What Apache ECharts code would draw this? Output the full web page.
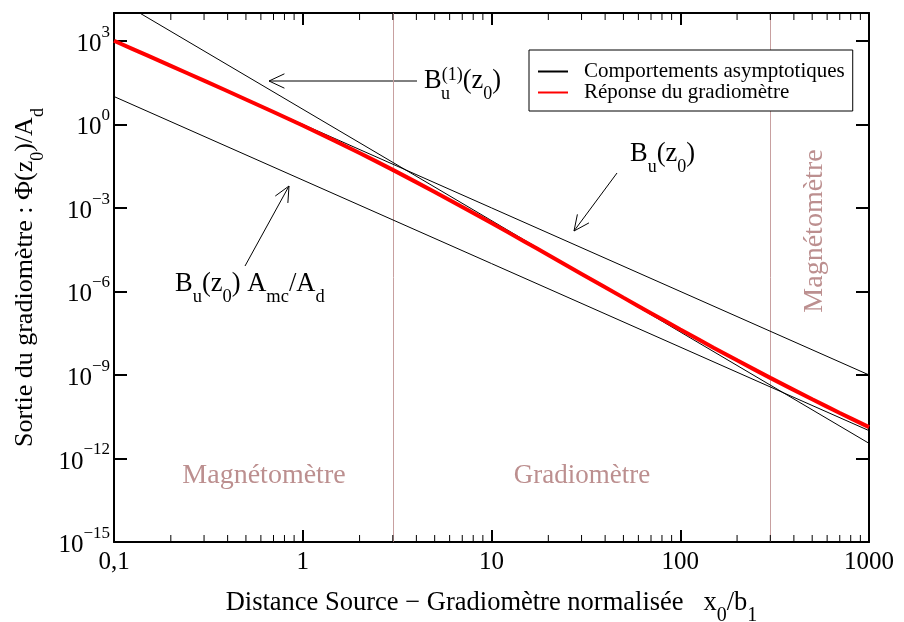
<!DOCTYPE html>
<html>
<head>
<meta charset="utf-8">
<script src="https://cdn.jsdelivr.net/npm/echarts@6/dist/echarts.min.js"></script>
<style>
  html, body { margin: 0; padding: 0; background: #fff; }
  #chart { width: 904px; height: 622px; }
</style>
</head>
<body>
<div id="chart"></div>
<script>
// Normalised source–gradiometer distance x0/b1
const distance = [0.1, 0.15, 0.2, 0.3, 0.5, 0.7, 1, 1.5, 2, 3, 5, 7, 10, 15, 20, 30, 50, 70, 100, 150, 200, 300, 500, 700, 1000];
// Gradiometer output Φ(z0)/Ad
const response = [1010, 299, 126, 37.1, 7.85, 2.78, 0.907, 0.244, 0.0936, 0.0232, 0.00374, 0.00108,
  2.85e-4, 6.10e-5, 2.03e-5, 4.26e-6, 5.99e-7, 1.66e-7, 4.31e-8, 9.56e-9, 3.35e-9, 7.86e-10, 1.34e-10, 4.32e-11, 1.34e-11];

// Asymptotic behaviours (straight lines in log–log), end points
const asymDistance = [0.1, 1000];
const derivAsym = [3.5e4, 3.5e-12];     // B_u^(1)(z0)
const fieldAsym = [1e3, 1e-9];          // B_u(z0)
const imbalanceAsym = [10, 1e-11];      // B_u(z0) Amc/Ad

// Regime boundaries
const regimeBounds = [3, 300];

// Axis ranges and ticks
const xRange = [0.1, 1000];
const yRange = [1e-15, 1e4];
const yTickStepDecades = 3;
const xMinorTicks = [0.2, 0.3, 0.4, 0.5, 0.6, 0.7, 0.8, 0.9,
  2, 3, 4, 5, 6, 7, 8, 9,
  20, 30, 40, 50, 60, 70, 80, 90,
  200, 300, 400, 500, 600, 700, 800, 900];

const SERIF = '"Liberation Serif", "Times New Roman", Times, serif';
const REGIME = '#bc8f8f';

const pairs = (xs, ys) => xs.map((x, i) => [x, ys[i]]);

// rich-text styles: main text plus lowered (d) / raised (u) small text
function richSet(size, small, drop, raise, color) {
  return {
    m: { fontFamily: SERIF, fontSize: size, lineHeight: size, color: color },
    d: { fontFamily: SERIF, fontSize: small, lineHeight: small, color: color, padding: [drop, 0, 0, 0] },
    u: { fontFamily: SERIF, fontSize: small, lineHeight: small, color: color, padding: [0, 0, raise, 0] }
  };
}

function arrow(tail, tip) {
  const L = 17, a = 25 * Math.PI / 180;
  const ang = Math.atan2(tail[1] - tip[1], tail[0] - tip[0]);
  const w1 = [tip[0] + L * Math.cos(ang + a), tip[1] + L * Math.sin(ang + a)];
  const w2 = [tip[0] + L * Math.cos(ang - a), tip[1] + L * Math.sin(ang - a)];
  return [
    { type: 'polyline', shape: { points: [tail, tip] }, style: { stroke: '#000', lineWidth: 1, fill: null } },
    { type: 'polyline', shape: { points: [w1, tip, w2] }, style: { stroke: '#000', lineWidth: 1, fill: null } }
  ];
}

const chart = echarts.init(document.getElementById('chart'), null, { renderer: 'canvas' });

const thinLine = { color: '#000', width: 1 };

const option = {
  animation: false,
  backgroundColor: '#fff',
  grid: { left: 114, right: 35, top: 13, bottom: 80, containLabel: false, outerBoundsMode: 'none' },
  legend: {
    data: ['Comportements asymptotiques', 'Réponse du gradiomètre'],
    orient: 'vertical',
    left: 529, top: 50,
    padding: [11, 8, 8, 8],
    itemWidth: 30, itemHeight: 14, itemGap: 0,
    borderColor: '#000', borderWidth: 1, borderRadius: 0,
    backgroundColor: '#fff',
    selectedMode: false,
    itemStyle: { opacity: 0 },
    textStyle: { fontFamily: SERIF, fontSize: 21, lineHeight: 20, color: '#000', padding: [0, 0, 0, 11] }
  },
  xAxis: [{
    type: 'log', logBase: 10, min: xRange[0], max: xRange[1], interval: 1,
    name: '{m|Distance Source − Gradiomètre normalisée   x}{d|0}{m|/b}{d|1}',
    nameLocation: 'middle', nameGap: 46,
    nameTextStyle: { rich: richSet(26.5, 20, 26, 0, '#000') },
    axisLine: { lineStyle: { color: '#000', width: 2 } },
    axisTick: { inside: true, length: 12, lineStyle: { color: '#000', width: 2 } },
    splitLine: { show: false },
    axisLabel: {
      margin: 8, color: '#000', fontFamily: SERIF, fontSize: 25,
      formatter: v => (v < 1 ? String(v).replace('.', ',') : String(Math.round(v)))
    }
  }, {
    type: 'log', logBase: 10, min: xRange[0], max: xRange[1], interval: 1, position: 'top',
    axisLine: { lineStyle: { color: '#000', width: 2 } },
    axisTick: { inside: true, length: 12, lineStyle: { color: '#000', width: 2 } },
    axisLabel: { show: false }, splitLine: { show: false }
  }],
  yAxis: [{
    type: 'log', logBase: 10, min: yRange[0], max: yRange[1], interval: yTickStepDecades,
    name: '{m|Sortie du gradiomètre : Φ(z}{d|0}{m|)/A}{d|d}',
    nameLocation: 'middle', nameGap: 68, nameRotate: 90,
    nameTextStyle: { rich: richSet(26, 18, 26, 0, '#000') },
    axisLine: { lineStyle: { color: '#000', width: 2 } },
    axisTick: { inside: true, length: 13, lineStyle: { color: '#000', width: 2 } },
    splitLine: { show: false },
    axisLabel: {
      margin: 4, showMaxLabel: false,
      formatter: v => {
        const e = Math.round(Math.log10(v));
        if (e > 3) return '';
        return '{b|10}{s|' + (e < 0 ? '\u2212' + (-e) : e) + '}';
      },
      rich: {
        b: { fontFamily: SERIF, fontSize: 25, lineHeight: 25, color: '#000', padding: [7, 0, 0, 0] },
        s: { fontFamily: SERIF, fontSize: 17, lineHeight: 17, color: '#000', padding: [0, 0, 17, 0] }
      }
    }
  }, {
    type: 'log', logBase: 10, min: yRange[0], max: yRange[1], interval: yTickStepDecades, position: 'right',
    axisLine: { lineStyle: { color: '#000', width: 2 } },
    axisTick: { inside: true, length: 13, lineStyle: { color: '#000', width: 2 } },
    axisLabel: { show: false }, splitLine: { show: false }
  }],
  series: [
    {
      name: 'Comportements asymptotiques', type: 'line', symbol: 'none', showSymbol: false, clip: true,
      lineStyle: thinLine, itemStyle: { color: '#000' },
      data: pairs(asymDistance, derivAsym), z: 2
    },
    {
      name: 'Comportements asymptotiques', type: 'line', symbol: 'none', showSymbol: false, clip: true,
      lineStyle: thinLine, itemStyle: { color: '#000' },
      data: pairs(asymDistance, fieldAsym), z: 2
    },
    {
      name: 'Comportements asymptotiques', type: 'line', symbol: 'none', showSymbol: false, clip: true,
      lineStyle: thinLine, itemStyle: { color: '#000' },
      data: pairs(asymDistance, imbalanceAsym), z: 2
    },
    {
      name: 'Réponse du gradiomètre', type: 'line', symbol: 'none', showSymbol: false, clip: true, smooth: 0.3,
      lineStyle: { color: '#ff0000', width: 4 }, itemStyle: { color: '#ff0000' },
      data: pairs(distance, response), z: 3,
      markLine: {
        silent: true, symbol: 'none', label: { show: false },
        lineStyle: { color: '#c8a0a0', width: 1, type: 'solid' },
        data: regimeBounds.map(v => ({ xAxis: v })),
        z: 1
      }
    },
    {
      // minor decade ticks on bottom and top frames
      type: 'custom', silent: true, clip: false, z: 4,
      data: xMinorTicks.map(v => [v, yRange[0]]),
      renderItem: (params, api) => {
        const v = api.value(0);
        const b = api.coord([v, yRange[0]]);
        const t = api.coord([v, yRange[1]]);
        return {
          type: 'group', children: [
            { type: 'line', shape: { x1: b[0], y1: b[1], x2: b[0], y2: b[1] - 7 }, style: { stroke: '#000', lineWidth: 1 } },
            { type: 'line', shape: { x1: t[0], y1: t[1], x2: t[0], y2: t[1] + 7 }, style: { stroke: '#000', lineWidth: 1 } }
          ]
        };
      }
    }
  ],
  graphic: [
    // regime labels
    { type: 'text', x: 264, y: 476, style: { text: 'Magnétomètre', fontFamily: SERIF, fontSize: 28, fill: REGIME, align: 'center', verticalAlign: 'middle' } },
    { type: 'text', x: 582, y: 476, style: { text: 'Gradiomètre', fontFamily: SERIF, fontSize: 27, fill: REGIME, align: 'center', verticalAlign: 'middle' } },
    { type: 'text', x: 815, y: 231, rotation: Math.PI / 2, style: { text: 'Magnétomètre', fontFamily: SERIF, fontSize: 28, fill: REGIME, align: 'center', verticalAlign: 'middle' } },
    // curve annotations
    { type: 'text', x: 424, y: 81, style: { text: '{m|B}{u|(1)}{m|(z}{d|0}{m|)}', rich: richSet(26.5, 18, 26, 12, '#000'), align: 'left', verticalAlign: 'middle' } },
    { type: 'text', x: 441, y: 94, style: { text: 'u', fontFamily: SERIF, fontSize: 18, fill: '#000', align: 'left', verticalAlign: 'middle' } },
    { type: 'text', x: 630, y: 154, style: { text: '{m|B}{d|u}{m|(z}{d|0}{m|)}', rich: richSet(26.5, 18, 26, 12, '#000'), align: 'left', verticalAlign: 'middle' } },
    { type: 'text', x: 175, y: 284, style: { text: '{m|B}{d|u}{m|(z}{d|0}{m|) A}{d|mc}{m|/A}{d|d}', rich: richSet(26.5, 18.5, 26, 12, '#000'), align: 'left', verticalAlign: 'middle' } },
    ...arrow([417, 81], [269, 81]),
    ...arrow([617, 173], [574, 231]),
    ...arrow([245, 266], [289, 186])
  ]
};

chart.setOption(option);
</script>
</body>
</html>
